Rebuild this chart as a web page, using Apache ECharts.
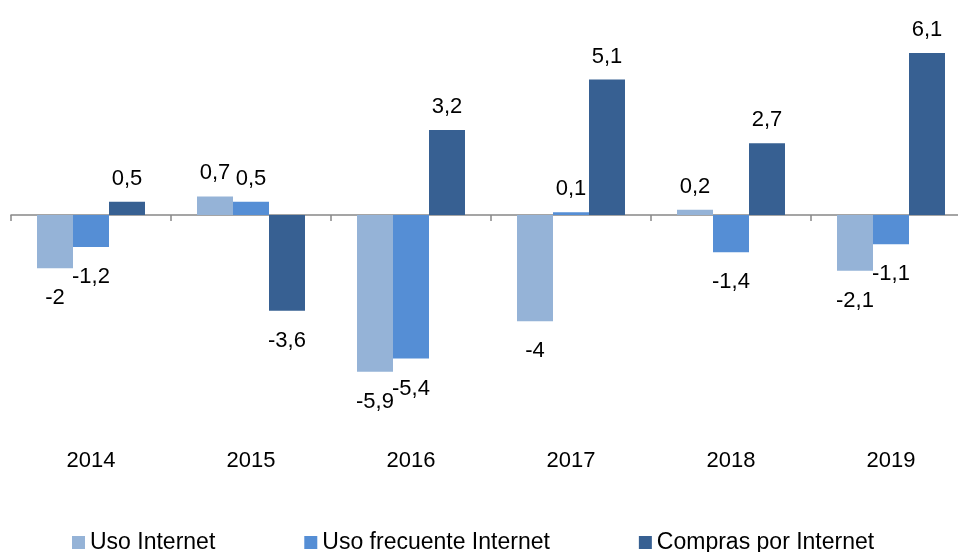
<!DOCTYPE html>
<html>
<head>
<meta charset="utf-8">
<script src="https://cdn.jsdelivr.net/npm/echarts@6/dist/echarts.min.js"></script>
<style>
  html, body { margin: 0; padding: 0; background: #fff; }
  #main { width: 958px; height: 552px; }
</style>
</head>
<body>
<div id="main"></div>
<script>
var categories = ['2014', '2015', '2016', '2017', '2018', '2019'];
var usoInternet = [-2, 0.7, -5.9, -4, 0.2, -2.1];
var usoFrecuente = [-1.2, 0.5, -5.4, 0.1, -1.4, -1.1];
var compras = [0.5, -3.6, 3.2, 5.1, 2.7, 6.1];

var font = 'Liberation Sans, Arial, Helvetica, sans-serif';

function withLabels(values) {
    return values.map(function (v) {
        return {
            value: v,
            label: {
                position: v < 0 ? 'bottom' : 'top',
                distance: v < 0 ? 19 : 12
            }
        };
    });
}

function makeSeries(name, values, color) {
    return {
        name: name,
        type: 'bar',
        xAxisIndex: 0,
        barWidth: 36,
        barGap: '0%',
        itemStyle: { color: color },
        label: {
            show: true,
            color: '#000',
            fontFamily: font,
            fontSize: 22,
            formatter: function (p) { return String(p.value).replace('.', ','); }
        },
        data: withLabels(values)
    };
}

var myChart = echarts.init(document.getElementById('main'));

var option = {
    backgroundColor: '#fff',
    animation: false,
    grid: { left: 11, width: 960, top: 29, height: 372, containLabel: false, outerBoundsMode: 'none' },
    legend: {
        left: 67,
        top: 526,
        itemWidth: 13,
        itemHeight: 13,
        itemGap: 89,
        icon: 'rect',
        textStyle: { fontFamily: font, fontSize: 23, color: '#000' },
        data: ['Uso Internet', 'Uso frecuente Internet', 'Compras por Internet']
    },
    xAxis: [
        {
            type: 'category',
            data: categories,
            axisLine: { onZero: true, lineStyle: { color: '#888', width: 1.5 } },
            axisTick: { show: true, length: 6, lineStyle: { color: '#888', width: 1.5 } },
            axisLabel: { show: false }
        },
        {
            type: 'category',
            data: categories,
            position: 'bottom',
            axisLine: { show: false, onZero: false },
            axisTick: { show: false },
            axisLabel: { margin: 49, color: '#000', fontFamily: font, fontSize: 22 }
        }
    ],
    yAxis: {
        type: 'value',
        min: -7,
        max: 7,
        show: false
    },
    series: [
        makeSeries('Uso Internet', usoInternet, '#95b3d7'),
        makeSeries('Uso frecuente Internet', usoFrecuente, '#558ed5'),
        makeSeries('Compras por Internet', compras, '#376092')
    ]
};

myChart.setOption(option);
</script>
</body>
</html>
